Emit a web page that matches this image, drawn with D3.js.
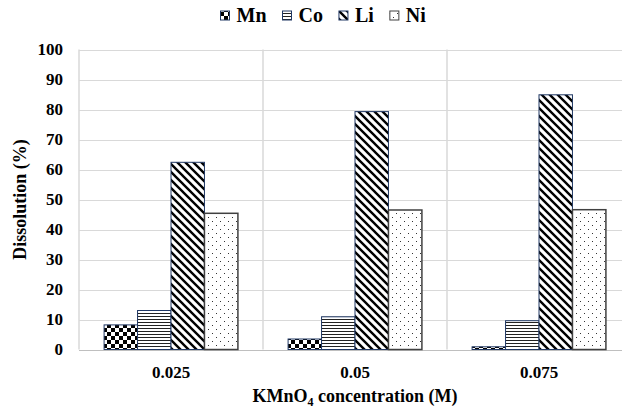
<!DOCTYPE html>
<html>
<head>
<meta charset="utf-8">
<script src="https://cdn.jsdelivr.net/npm/d3@7"></script>
<style>
  body { margin: 0; background: #fff; }
  svg { display: block; }
  text { font-family: "Liberation Serif", "Times New Roman", serif; font-weight: bold; fill: #000; }
</style>
</head>
<body>
<svg id="chart" width="622" height="411"></svg>
<script>
// data
var categories = ["0.025", "0.05", "0.075"];
var seriesNames = ["Mn", "Co", "Li", "Ni"];
var mnValues = [8.2, 3.5, 0.9];
var coValues = [13.0, 10.9, 9.6];
var liValues = [62.4, 79.3, 84.9];
var niValues = [45.4, 46.5, 46.6];
var yTicks = [0, 10, 20, 30, 40, 50, 60, 70, 80, 90, 100];

var seriesValues = {Mn: mnValues, Co: coValues, Li: liValues, Ni: niValues};

var svg = d3.select("#chart");
// plot area runs a bit past the right edge of the picture (it was cropped)
var plotLeft = 79, plotRight = 631, plotTop = 49.5, plotBottom = 349.5;

var x = d3.scaleBand().domain(categories).range([plotLeft, plotRight]).paddingInner(0).paddingOuter(0);
// Excel gap width 150% -> bars = band / 5.5
var gap = x.bandwidth() * 1.5 / 5.5;
var xs = d3.scaleBand().domain(seriesNames).range([gap / 2, x.bandwidth() - gap / 2]).padding(0);
var y = d3.scaleLinear().domain([0, 100]).range([plotBottom, plotTop]);

// patterns
var defs = svg.append("defs");
var pCheck = defs.append("pattern").attr("id", "pat-Mn").attr("patternUnits", "userSpaceOnUse")
    .attr("width", 8).attr("height", 8);
pCheck.append("rect").attr("width", 8).attr("height", 8).attr("fill", "#fff");
pCheck.append("rect").attr("width", 4).attr("height", 4).attr("fill", "#000");
pCheck.append("rect").attr("x", 4).attr("y", 4).attr("width", 4).attr("height", 4).attr("fill", "#000");

var pHor = defs.append("pattern").attr("id", "pat-Co").attr("patternUnits", "userSpaceOnUse")
    .attr("width", 8).attr("height", 3);
pHor.append("rect").attr("width", 8).attr("height", 3).attr("fill", "#fff");
pHor.append("rect").attr("y", 1).attr("width", 8).attr("height", 1).attr("fill", "#222");

var pDiag = defs.append("pattern").attr("id", "pat-Li").attr("patternUnits", "userSpaceOnUse")
    .attr("width", 8).attr("height", 8);
pDiag.append("rect").attr("width", 8).attr("height", 8).attr("fill", "#fff");
pDiag.append("path").attr("d", "M-2,-2L10,10M-2,6L2,10M6,-2L10,2")
    .attr("stroke", "#000").attr("stroke-width", 2.4);

var pDot = defs.append("pattern").attr("id", "pat-Ni").attr("patternUnits", "userSpaceOnUse")
    .attr("width", 8).attr("height", 8);
pDot.append("rect").attr("width", 8).attr("height", 8).attr("fill", "#fff");
pDot.append("rect").attr("x", 1).attr("y", 1).attr("width", 1).attr("height", 1).attr("fill", "#333");
pDot.append("rect").attr("x", 5).attr("y", 5).attr("width", 1).attr("height", 1).attr("fill", "#333");

var borderColor = {Mn: "#203864", Co: "#203864", Li: "#203864", Ni: "#404040"};
var borderWidth = {Mn: 1, Co: 1, Li: 1, Ni: 1.5};

// gridlines
var grid = svg.append("g").attr("class", "grid");
grid.selectAll("line.h")
    .data(yTicks)
    .enter().append("line")
    .attr("class", "h")
    .attr("x1", plotLeft).attr("x2", plotRight)
    .attr("y1", function (d) { return Math.round(y(d)) + 0.5; })
    .attr("y2", function (d) { return Math.round(y(d)) + 0.5; })
    .attr("stroke", function (d) { return d === 0 ? "#bfbfbf" : "#d9d9d9"; })
    .attr("stroke-width", 1);
grid.selectAll("line.v")
    .data(categories.concat(["end"]))
    .enter().append("line")
    .attr("class", "v")
    .attr("x1", function (d) { return d === "end" ? plotRight : x(d); })
    .attr("x2", function (d) { return d === "end" ? plotRight : x(d); })
    .attr("y1", y(100)).attr("y2", y(0))
    .attr("stroke", "#d9d9d9").attr("stroke-width", 1.5);

// bars
var groups = svg.append("g").selectAll("g")
    .data(categories)
    .enter().append("g")
    .attr("transform", function (d) { return "translate(" + x(d) + ",0)"; });

groups.selectAll("rect")
    .data(function (d, i) {
        return seriesNames.map(function (s) { return {series: s, value: seriesValues[s][i]}; });
    })
    .enter().append("rect")
    .attr("x", function (d) { return xs(d.series); })
    .attr("width", xs.bandwidth())
    .attr("y", function (d) { return y(d.value); })
    .attr("height", function (d) { return y(0) - y(d.value); })
    .attr("fill", function (d) { return "url(#pat-" + d.series + ")"; })
    .attr("stroke", function (d) { return borderColor[d.series]; })
    .attr("stroke-width", function (d) { return borderWidth[d.series]; });

// y axis labels
svg.append("g").selectAll("text")
    .data(yTicks)
    .enter().append("text")
    .attr("x", 63)
    .attr("y", function (d) { return y(d); })
    .attr("dy", "0.35em")
    .attr("text-anchor", "end")
    .style("font-size", "17px")
    .text(function (d) { return d; });

// x axis labels
svg.append("g").selectAll("text")
    .data(categories)
    .enter().append("text")
    .attr("x", function (d) { return x(d) + x.bandwidth() / 2; })
    .attr("y", 378)
    .attr("text-anchor", "middle")
    .style("font-size", "17px")
    .text(function (d) { return d; });

// axis titles
svg.append("text")
    .attr("transform", "translate(26," + ((plotTop + plotBottom) / 2) + ") rotate(-90)")
    .attr("text-anchor", "middle")
    .style("font-size", "18px")
    .text("Dissolution (%)");

var xTitle = svg.append("text")
    .attr("x", (plotLeft + plotRight) / 2)
    .attr("y", 402)
    .attr("text-anchor", "middle")
    .style("font-size", "18px");
xTitle.append("tspan").text("KMnO");
xTitle.append("tspan").attr("dy", 4).style("font-size", "12px").text("4");
xTitle.append("tspan").attr("dy", -4).text(" concentration (M)");

// legend
var legend = svg.append("g");
var lx = 220.5;
seriesNames.forEach(function (s) {
    var item = legend.append("g");
    item.append("rect")
        .attr("x", lx).attr("y", 11)
        .attr("width", 9).attr("height", 9)
        .attr("fill", "url(#pat-" + s + ")")
        .attr("stroke", borderColor[s]).attr("stroke-width", 1);
    var t = item.append("text")
        .attr("x", lx + 16)
        .attr("y", 22)
        .style("font-size", "20px")
        .text(s);
    lx += 16 + t.node().getComputedTextLength() + 16;
});
</script>
</body>
</html>
